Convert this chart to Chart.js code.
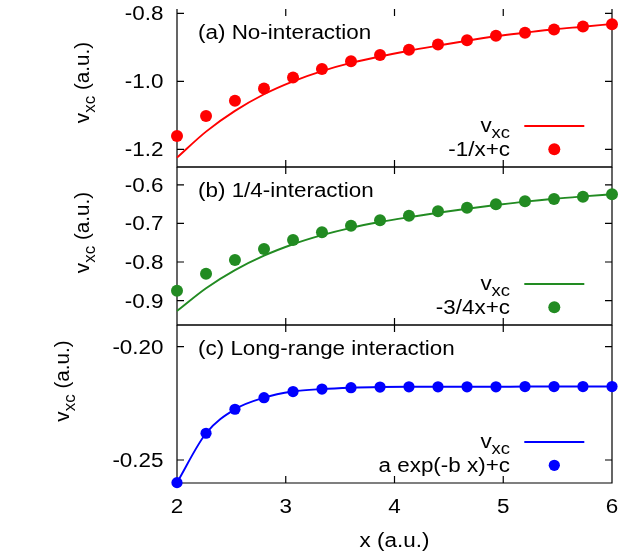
<!DOCTYPE html>
<html>
<head>
<meta charset="utf-8">
<title>v_xc panels</title>
<script src="https://cdn.jsdelivr.net/npm/chart.js@4.4.1/dist/chart.umd.min.js"></script>
<style>
  html, body { margin: 0; padding: 0; background: #fff; }
  #wrap { width: 625px; height: 554px; }
</style>
</head>
<body>
<div id="wrap"><canvas id="vxcChart" width="625" height="554"></canvas></div>
<script>
// Grid points (a.u.) shared by all three panels
const xs = [2.000, 2.267, 2.533, 2.800, 3.067, 3.333, 3.600, 3.867, 4.133, 4.400, 4.667, 4.933, 5.200, 5.467, 5.733, 6.000];

// (a) No-interaction
const vxcA = [-1.2245, -1.148, -1.087, -1.038, -1.000, -0.970, -0.946, -0.927, -0.910, -0.895, -0.8806, -0.8676, -0.857, -0.847, -0.8394, -0.8315];
const fitA = [-1.161, -1.102, -1.057, -1.021, -0.989, -0.964, -0.941, -0.923, -0.907, -0.892, -0.879, -0.866, -0.857, -0.848, -0.839, -0.832];

// (b) 1/4-interaction
const vxcB = [-0.927, -0.868, -0.821, -0.7836, -0.754, -0.7305, -0.7115, -0.6965, -0.684, -0.6725, -0.662, -0.6525, -0.6435, -0.636, -0.630, -0.6246];
const fitB = [-0.8743, -0.8303, -0.7948, -0.7663, -0.743, -0.7231, -0.706, -0.692, -0.680, -0.6687, -0.6593, -0.6505, -0.6427, -0.6368, -0.6308, -0.6246];

// (c) Long-range interaction
const vxcC = [-0.2600, -0.2382, -0.2276, -0.2225, -0.2198, -0.2187, -0.2181, -0.2178, -0.2177, -0.2177, -0.2177, -0.2177, -0.2176, -0.2176, -0.2176, -0.2176];
const fitC = [-0.2600, -0.2382, -0.2276, -0.2225, -0.2198, -0.2187, -0.2181, -0.2178, -0.2177, -0.2177, -0.2177, -0.2177, -0.2176, -0.2176, -0.2176, -0.2176];

// tick values
const xTicks = [2, 3, 4, 5, 6];
const yTicksA = [-1.2, -1.0, -0.8];
const yTicksB = [-0.9, -0.8, -0.7, -0.6];
const yTicksC = [-0.25, -0.20];

const panelTitles = ['(a) No-interaction', '(b) 1/4-interaction', '(c) Long-range interaction'];
const fitLabels = ['-1/x+c', '-3/4x+c', 'a exp(-b x)+c'];
const colors = ['#ff0000', '#228b22', '#0000ff'];

const panelIds = ['yA', 'yB', 'yC'];
const tickDigits = [1, 1, 2];
const dotRadius = [6, 6, 5.6];
const TICK = 7;

const FONT = '"Liberation Sans", Arial, sans-serif';
const SIZE = 19.5;
const SUB = 16;
const WIDE = 1.15; // the labels use a wide face

function runsWidth(ctx, runs) {
  let w = 0;
  runs.forEach(r => {
    ctx.font = `${r.sub ? SUB : SIZE}px ${FONT}`;
    w += ctx.measureText(r.t).width;
  });
  return w;
}

// draws a list of text runs (plain / subscript) on a baseline
function drawRuns(ctx, runs, x, y, align = 'left', angle = 0, wide = WIDE) {
  ctx.save();
  ctx.translate(x, y);
  if (angle) ctx.rotate(angle);
  const total = runsWidth(ctx, runs) * wide;
  let pos = align === 'right' ? -total : align === 'center' ? -total / 2 : 0;
  ctx.fillStyle = '#000';
  ctx.textAlign = 'left';
  ctx.textBaseline = 'alphabetic';
  runs.forEach(r => {
    ctx.font = `${r.sub ? SUB : SIZE}px ${FONT}`;
    const w = ctx.measureText(r.t).width;
    ctx.save();
    ctx.translate(pos, r.sub ? 6.3 : 0);
    ctx.scale(wide, 1);
    ctx.fillText(r.t, 0, 0);
    ctx.restore();
    pos += w * wide;
  });
  ctx.restore();
}

const plain = s => [{ t: s }];
const vxcRuns = [{ t: 'v' }, { t: 'xc', sub: true }];
const yTitleRuns = [{ t: 'v' }, { t: 'xc', sub: true }, { t: ' (a.u.)' }];
const yTitlePos = [[88.5, 82.5], [88.5, 232.5], [69, 381]];

// box + inward ticks on every side of each panel
const framePlugin = {
  id: 'frame',
  beforeDatasetsDraw(chart) {
    const { ctx, chartArea: { left, right } } = chart;
    const x = chart.scales.x;
    ctx.save();
    ctx.strokeStyle = '#000';
    ctx.lineWidth = 1.2;
    panelIds.forEach((id, i) => {
      const s = chart.scales[id];
      ctx.beginPath();
      if (i > 0) {
        ctx.moveTo(left, s.top);
        ctx.lineTo(right, s.top);
      }
      ctx.moveTo(left, s.top);
      ctx.lineTo(left, s.bottom);
      ctx.lineTo(right, s.bottom);
      ctx.lineTo(right, s.top);
      s.ticks.forEach(t => {
        const py = s.getPixelForValue(t.value);
        ctx.moveTo(left, py); ctx.lineTo(left + TICK, py);
        ctx.moveTo(right, py); ctx.lineTo(right - TICK, py);
      });
      x.ticks.forEach(t => {
        const px = x.getPixelForValue(t.value);
        ctx.moveTo(px, s.top); ctx.lineTo(px, s.top + TICK);
        ctx.moveTo(px, s.bottom); ctx.lineTo(px, s.bottom - TICK);
      });
      ctx.stroke();
    });
    ctx.restore();
  }
};

// tick labels, axis titles, panel captions and keys
const labelPlugin = {
  id: 'labels',
  afterDraw(chart) {
    const { ctx, chartArea: { left } } = chart;
    const x = chart.scales.x;

    x.ticks.forEach(t => {
      drawRuns(ctx, plain(String(t.value)), x.getPixelForValue(t.value), 513, 'center');
    });
    drawRuns(ctx, plain('x (a.u.)'), (x.left + x.right) / 2, 546.5, 'center');

    panelIds.forEach((id, i) => {
      const s = chart.scales[id];
      s.ticks.forEach(t => {
        drawRuns(ctx, plain(t.value.toFixed(tickDigits[i])), left - 13.5, s.getPixelForValue(t.value) + 7, 'right');
      });
      drawRuns(ctx, yTitleRuns, yTitlePos[i][0], yTitlePos[i][1], 'center', -Math.PI / 2, 1.06);
      drawRuns(ctx, plain(panelTitles[i]), left + 21, s.top + 30.3, 'left');

      // key
      const lineY = s.bottom - 41;
      const dotY = s.bottom - 17.7;
      drawRuns(ctx, vxcRuns, 510, lineY + 6, 'right');
      drawRuns(ctx, plain(fitLabels[i]), 510, dotY + 6.5, 'right');
      ctx.save();
      ctx.strokeStyle = colors[i];
      ctx.lineWidth = 1.9;
      ctx.beginPath();
      ctx.moveTo(524.3, lineY);
      ctx.lineTo(584.3, lineY);
      ctx.stroke();
      ctx.fillStyle = colors[i];
      ctx.beginPath();
      ctx.arc(554.3, dotY, dotRadius[i], 0, Math.PI * 2);
      ctx.fill();
      ctx.restore();
    });
  }
};

const pts = ys => xs.map((x, i) => ({ x, y: ys[i] }));

function dots(ys, i) {
  return {
    type: 'scatter',
    data: pts(ys),
    yAxisID: panelIds[i],
    backgroundColor: colors[i],
    borderWidth: 0,
    pointRadius: dotRadius[i],
    pointHoverRadius: dotRadius[i],
    clip: false
  };
}

function curve(ys, i) {
  return {
    type: 'line',
    data: pts(ys),
    yAxisID: panelIds[i],
    borderColor: colors[i],
    borderWidth: 1.9,
    pointRadius: 0,
    fill: false,
    cubicInterpolationMode: 'monotone',
    clip: false
  };
}

function yScale(min, max, ticks, weight) {
  return {
    type: 'linear',
    position: 'left',
    stack: 'panels',
    stackWeight: 1,
    weight: weight,
    min: min,
    max: max,
    afterBuildTicks: s => { s.ticks = ticks.map(v => ({ value: v })); },
    afterFit: s => { s.width = 177; },
    ticks: { display: false },
    grid: { display: false },
    border: { display: false }
  };
}

new Chart(document.getElementById('vxcChart'), {
  type: 'scatter',
  data: {
    datasets: [
      dots(fitA, 0), dots(fitB, 1), dots(fitC, 2),
      curve(vxcA, 0), curve(vxcB, 1), curve(vxcC, 2)
    ]
  },
  options: {
    responsive: false,
    animation: false,
    devicePixelRatio: 1,
    layout: { padding: { top: 9, right: 13, left: 0, bottom: 0 } },
    plugins: { legend: { display: false }, tooltip: { enabled: false } },
    scales: {
      x: {
        type: 'linear',
        position: 'bottom',
        min: 2,
        max: 6,
        afterBuildTicks: s => { s.ticks = xTicks.map(v => ({ value: v })); },
        afterFit: s => { s.height = 71; },
        ticks: { display: false },
        grid: { display: false },
        border: { display: false }
      },
      yA: yScale(-1.252, -0.7874, yTicksA, 3),
      yB: yScale(-0.9632, -0.5539, yTicksB, 2),
      yC: yScale(-0.26015, -0.19043, yTicksC, 1)
    }
  },
  plugins: [framePlugin, labelPlugin]
});
</script>
</body>
</html>
